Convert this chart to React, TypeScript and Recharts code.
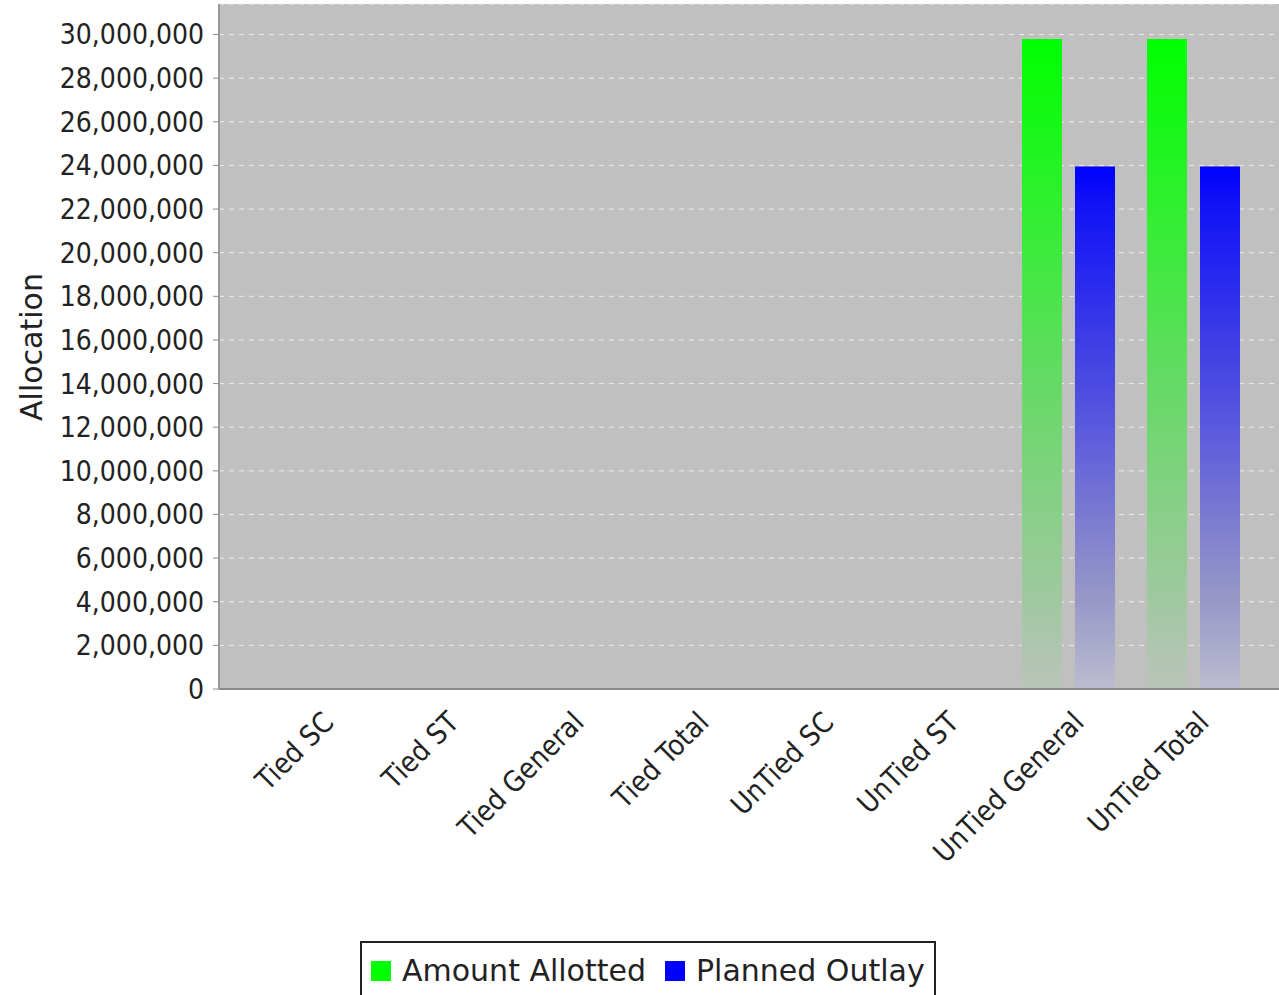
import React from 'react';
import { BarChart, Bar, XAxis, YAxis, CartesianGrid, Legend, Label } from 'recharts';

const categories = ['Tied SC', 'Tied ST', 'Tied General', 'Tied Total', 'UnTied SC', 'UnTied ST', 'UnTied General', 'UnTied Total'];
const amountAllotted = [0, 0, 0, 0, 0, 0, 29800000, 29800000];
const plannedOutlay = [0, 0, 0, 0, 0, 0, 23950000, 23950000];
const yTicks = [0, 2000000, 4000000, 6000000, 8000000, 10000000, 12000000, 14000000, 16000000, 18000000, 20000000, 22000000, 24000000, 26000000, 28000000, 30000000];

const data = categories.map((name, i) => ({
    name,
    allotted: amountAllotted[i],
    outlay: plannedOutlay[i]
}));

const condensed = "'DejaVu Sans Condensed', 'DejaVu Sans', sans-serif";
const sans = "'DejaVu Sans', sans-serif";

const CategoryTick = ({ x, y, payload }: any) => (
    <text
        transform={`translate(${x + 17},${y + 35}) rotate(-45)`}
        textAnchor="end"
        fontSize={28.5}
        fontFamily={condensed}
        style={{ fontStretch: 'condensed' }}
        fill="#222"
    >
        {payload.value}
    </text>
);

const LegendBox = () => (
    <div style={{
        position: 'relative', width: 576, height: 60, border: '2px solid #222', borderBottom: 'none',
        boxSizing: 'border-box', fontFamily: sans, fontSize: 30, color: '#222', background: '#fff'
    }}>
        <span style={{ position: 'absolute', left: 9, top: 18, width: 20, height: 20, background: '#00ff00' }} />
        <span style={{ position: 'absolute', left: 40, top: 11, lineHeight: '34px', whiteSpace: 'nowrap' }}>Amount Allotted</span>
        <span style={{ position: 'absolute', left: 303, top: 18, width: 20, height: 20, background: '#0000ff' }} />
        <span style={{ position: 'absolute', left: 334, top: 11, lineHeight: '34px', whiteSpace: 'nowrap' }}>Planned Outlay</span>
    </div>
);

export default function App() {
    return (
        <div style={{ position: 'absolute', left: 0, top: 0, width: 1279, height: 995, background: '#fff' }}>
            <BarChart
                width={1279}
                height={995}
                data={data}
                margin={{ top: 4, right: 0, bottom: 0, left: 0 }}
                barSize={40}
                barGap={13}
            >
                <defs>
                    <linearGradient id="gGreen" x1="0" y1="0" x2="0" y2="1">
                        <stop offset="0" stopColor="#00ff00" />
                        <stop offset="0.25" stopColor="#2ef02e" />
                        <stop offset="0.555" stopColor="#6ad86a" />
                        <stop offset="0.863" stopColor="#a0c8a0" />
                        <stop offset="1" stopColor="#bac4ba" />
                    </linearGradient>
                    <linearGradient id="gBlue" x1="0" y1="0" x2="0" y2="1">
                        <stop offset="0" stopColor="#0000ff" />
                        <stop offset="0.063" stopColor="#1010f8" />
                        <stop offset="0.446" stopColor="#5050e0" />
                        <stop offset="0.83" stopColor="#9898c8" />
                        <stop offset="1" stopColor="#bcbcd0" />
                    </linearGradient>
                </defs>
                <CartesianGrid vertical={false} fill="#c0c0c0" fillOpacity={1} stroke="#ececec" strokeDasharray="5 5" />
                <XAxis
                    dataKey="name"
                    height={306}
                    padding={{ left: 37, right: 23 }}
                    tick={<CategoryTick />}
                    tickLine={false}
                    tickSize={0}
                    tickMargin={0}
                    interval={0}
                    axisLine={{ stroke: '#8a8a8a', strokeWidth: 2 }}
                />
                <YAxis
                    width={219}
                    domain={[0, 31400000]}
                    ticks={yTicks}
                    interval={0}
                    tickFormatter={(v: number) => v.toLocaleString('en-US')}
                    tick={{ fontSize: 28, fill: '#222', fontFamily: condensed, style: { fontStretch: 'condensed' } }}
                    tickSize={6}
                    tickMargin={9}
                    tickLine={{ stroke: '#8a8a8a' }}
                    axisLine={{ stroke: '#9a9a9a', strokeWidth: 2 }}
                >
                    <Label
                        content={() => (
                            <text transform="translate(42,347) rotate(-90)" textAnchor="middle" fontSize={30} fontFamily={sans} fill="#222">
                                Allocation
                            </text>
                        )}
                    />
                </YAxis>
                <Legend
                    verticalAlign="middle"
                    align="center"
                    wrapperStyle={{ left: 360, top: 941, width: 576, height: 60 }}
                    content={<LegendBox />}
                />
                <Bar dataKey="allotted" name="Amount Allotted" fill="url(#gGreen)" isAnimationActive={false} />
                <Bar dataKey="outlay" name="Planned Outlay" fill="url(#gBlue)" isAnimationActive={false} />
            </BarChart>
        </div>
    );
}
